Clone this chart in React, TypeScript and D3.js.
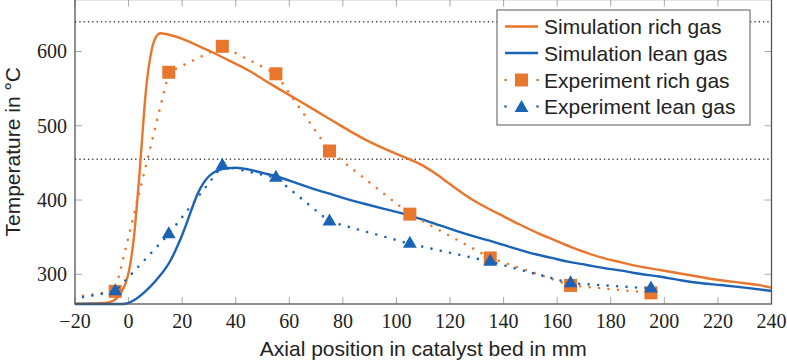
import React from "react";
import * as d3 from "d3";

// ---------- data ----------
const xTicks = [-20, 0, 20, 40, 60, 80, 100, 120, 140, 160, 180, 200, 220, 240];
const yTicks = [300, 400, 500, 600];
const refLines = [640, 455];

const simRichX = [-20, -10, -6, -3, -1, 0, 1, 2, 3, 4, 5, 6, 7, 8, 9, 10, 11, 12, 14, 20, 27, 33, 38, 45, 50, 55, 63, 70, 76, 88, 100, 104, 109, 114, 119, 124, 129, 134, 140, 146, 153, 159, 165, 171, 176, 184, 190, 198, 206, 214, 221, 230, 236, 240];
const simRichT = [260.5, 261, 264, 274, 289, 302, 322, 350, 388, 432, 480, 528, 565, 590, 608, 618, 623, 624.5, 623.5, 617, 606, 596, 587, 574, 563, 552, 535, 520, 507, 482, 462, 456, 448, 437, 424, 411, 399, 389, 378, 367, 355, 346, 337, 329, 323, 316, 311, 306, 301, 296, 292, 288, 285, 282];

const simLeanX = [-20, -2, 0, 2, 5, 8, 11, 14, 16, 18, 20, 22, 24, 26, 28, 30, 32, 34, 37, 40, 45, 50, 55, 63, 70, 75, 80, 88, 95, 100, 106, 112, 121, 128, 134, 140, 146, 152, 158, 164, 171, 178, 184, 190, 198, 206, 214, 221, 230, 240];
const simLeanT = [260, 260, 261.5, 265, 273, 283, 295, 309, 321, 336, 353, 372, 392, 410, 423, 432, 437.5, 440.5, 443, 443.5, 441, 436.5, 432, 422.5, 414, 408.5, 403, 395, 388.5, 384, 378, 371, 360, 352, 346, 339.5, 333, 327, 322, 317, 312.5, 308, 305, 301, 297, 292, 288, 285.5, 282, 277.5];

const expX = [-5, 15, 35, 55, 75, 105, 135, 165, 195];
const expRichT = [277, 572, 607, 570, 466, 381, 322, 285, 275];
const expLeanT = [277, 354, 446, 430, 371, 341, 317, 288, 281];
const inletX = -17;
const inletRichT = 271;
const inletLeanT = 269;

const legendLabels = [
  "Simulation rich gas",
  "Simulation lean gas",
  "Experiment rich gas",
  "Experiment lean gas",
];

// ---------- styles ----------
const W = 787;
const H = 363;
const ORANGE = "#E8762D";
const BLUE = "#1A63B5";
const FRAME = "#555555";
const TICK = "#aaaaaa";
const plot = { left: 75, right: 771.5, top: -0.5, bottom: 304 };

const x = d3.scaleLinear().domain([-20, 240]).range([plot.left, plot.right]);
const y = d3.scaleLinear().domain([260, 670]).range([plot.bottom, plot.top]);

const smooth = d3
  .line<[number, number]>()
  .x((d) => x(d[0]))
  .y((d) => y(d[1]))
  .curve(d3.curveMonotoneX);
const straight = d3
  .line<[number, number]>()
  .x((d) => x(d[0]))
  .y((d) => y(d[1]));

const zip = (xs: number[], ys: number[]) => xs.map((v, i) => [v, ys[i]] as [number, number]);

const squarePath = (cx: number, cy: number, s: number) =>
  `M${cx - s / 2},${cy - s / 2}h${s}v${s}h${-s}Z`;
const triPath = (cx: number, cy: number, r: number) => {
  const a = (r * Math.sqrt(3)) / 2;
  return `M${cx},${cy - r}L${cx + a},${cy + r / 2}L${cx - a},${cy + r / 2}Z`;
};

const SANS = "'Liberation Sans', Arial, sans-serif";
const SERIF = "'Liberation Serif', 'Times New Roman', serif";

export default function App() {
  const richLine = straight([[inletX, inletRichT] as [number, number], ...zip(expX, expRichT)]) || "";
  const leanLine = straight([[inletX, inletLeanT] as [number, number], ...zip(expX, expLeanT)]) || "";
  const dotted = { strokeWidth: 2.6, strokeLinecap: "round" as const, strokeDasharray: "0 9.5", fill: "none" };

  const legX = 497;
  const legY = 10;
  const legRows = [26.5, 53, 80, 106.5];

  return (
    <svg width={W} height={H} style={{ position: "absolute", left: 0, top: 0, background: "#fff" }}>
      <rect x={0} y={0} width={W} height={H} fill="#fff" />
      {/* tick marks */}
      {xTicks.map((t) => (
        <g key={"xt" + t}>
          <line x1={x(t)} x2={x(t)} y1={plot.bottom} y2={plot.bottom - 7} stroke={TICK} strokeWidth={1} />
          <line x1={x(t)} x2={x(t)} y1={plot.top} y2={plot.top + 7} stroke={TICK} strokeWidth={1} />
        </g>
      ))}
      {yTicks.map((t) => (
        <g key={"yt" + t}>
          <line x1={plot.left} x2={plot.left + 7} y1={y(t)} y2={y(t)} stroke={TICK} strokeWidth={1} />
          <line x1={plot.right} x2={plot.right - 7} y1={y(t)} y2={y(t)} stroke={TICK} strokeWidth={1} />
        </g>
      ))}
      {/* reference dotted lines */}
      {refLines.map((v) => (
        <line
          key={"ref" + v}
          x1={plot.left}
          x2={plot.right}
          y1={y(v)}
          y2={y(v)}
          stroke="#444"
          strokeWidth={1.4}
          strokeDasharray="1.3 3"
        />
      ))}
      {/* simulation lines */}
      <path d={smooth(zip(simRichX, simRichT)) || ""} stroke={ORANGE} strokeWidth={2.4} fill="none" />
      <path d={smooth(zip(simLeanX, simLeanT)) || ""} stroke={BLUE} strokeWidth={2.4} fill="none" />
      {/* experiment rich */}
      <path d={richLine} stroke={ORANGE} {...dotted} />
      {expX.map((v, i) => (
        <path key={"sq" + i} d={squarePath(x(v), y(expRichT[i]), 13)} fill={ORANGE} />
      ))}
      {/* experiment lean */}
      <path d={leanLine} stroke={BLUE} {...dotted} />
      {expX.map((v, i) => (
        <path key={"tr" + i} d={triPath(x(v), y(expLeanT[i]), 8)} fill={BLUE} />
      ))}
      {/* frame */}
      <rect
        x={plot.left}
        y={plot.top}
        width={plot.right - plot.left}
        height={plot.bottom - plot.top}
        fill="none"
        stroke={FRAME}
        strokeWidth={1.3}
      />
      {/* tick labels */}
      {xTicks.map((t) => (
        <text key={"xl" + t} x={x(t)} y={328} textAnchor="middle" fontFamily={SERIF} fontSize={20} fill="#222">
          {t < 0 ? "\u2212" + Math.abs(t) : String(t)}
        </text>
      ))}
      {yTicks.map((t) => (
        <text key={"yl" + t} x={67} y={y(t)} dy="0.35em" textAnchor="end" fontFamily={SERIF} fontSize={20} fill="#222">
          {t}
        </text>
      ))}
      {/* axis titles */}
      <text x={(plot.left + plot.right) / 2} y={356} textAnchor="middle" fontFamily={SANS} fontSize={21} fill="#222">
        Axial position in catalyst bed in mm
      </text>
      <text
        transform={`translate(19.5, ${(plot.top + plot.bottom) / 2}) rotate(-90)`}
        textAnchor="middle"
        fontFamily={SANS}
        fontSize={21}
        fill="#222"
      >
        Temperature in {"\u00B0"}C
      </text>
      {/* legend */}
      <rect x={legX} y={legY} width={253} height={115} fill="#fff" stroke="#666" strokeWidth={1.1} />
      {legendLabels.map((lab, i) => {
        const cy = legRows[i];
        const col = i % 2 === 0 ? ORANGE : BLUE;
        return (
          <g key={"leg" + i}>
            {i < 2 ? (
              <line x1={505} x2={538} y1={cy} y2={cy} stroke={col} strokeWidth={2.4} />
            ) : (
              <>
                <circle cx={505.5} cy={cy} r={1.3} fill={col} />
                <circle cx={537.5} cy={cy} r={1.3} fill={col} />
                {i === 2 ? (
                  <path d={squarePath(521.5, cy, 13)} fill={col} />
                ) : (
                  <path d={triPath(521.5, cy + 1.5, 8)} fill={col} />
                )}
              </>
            )}
            <text x={544} y={cy + 7.5} fontFamily={SANS} fontSize={21} fill="#222">
              {lab}
            </text>
          </g>
        );
      })}
    </svg>
  );
}
